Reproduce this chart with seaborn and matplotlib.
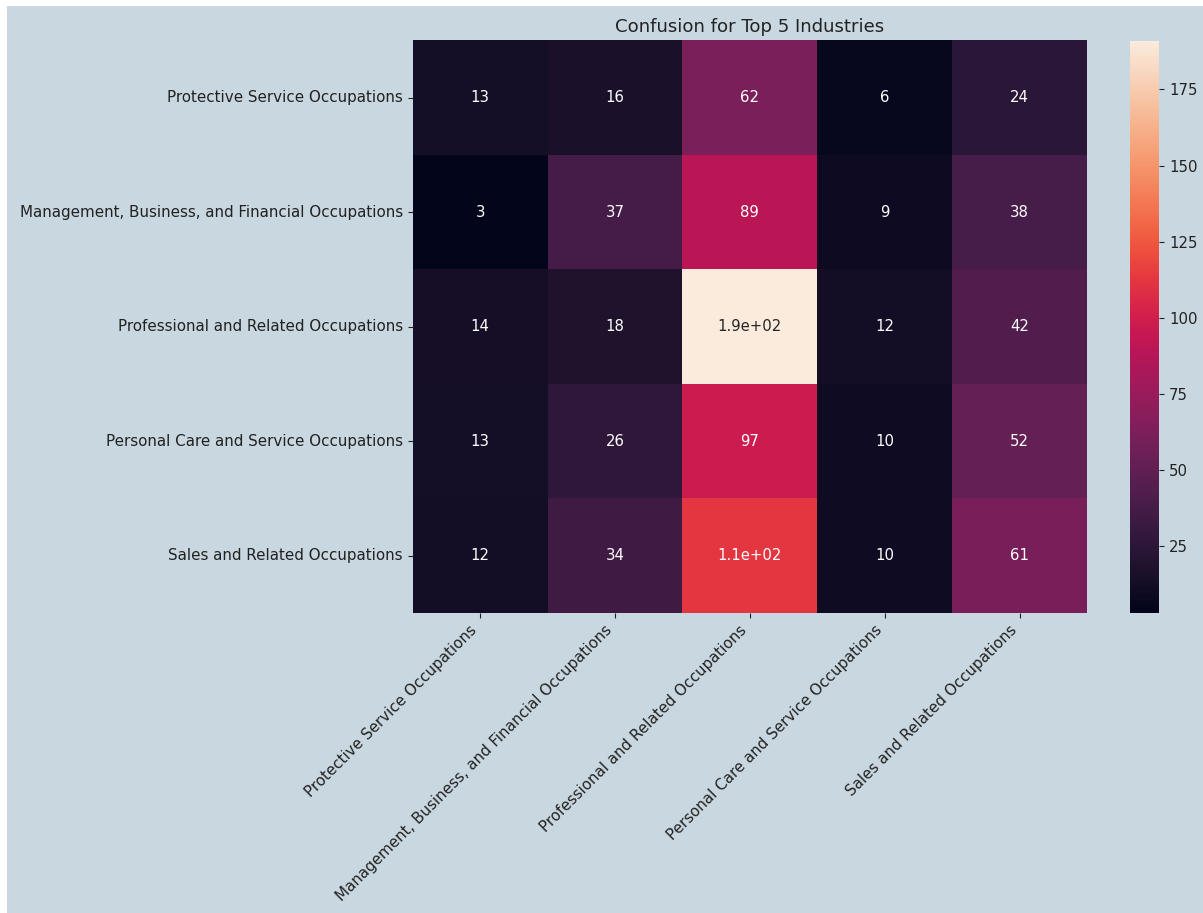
import matplotlib
matplotlib.use("Agg")
import matplotlib.pyplot as plt
from matplotlib.patches import Rectangle
import numpy as np
import pandas as pd
import seaborn as sns

occupations = [
    "Protective Service Occupations",
    "Management, Business, and Financial Occupations",
    "Professional and Related Occupations",
    "Personal Care and Service Occupations",
    "Sales and Related Occupations",
]

row_protective = [13, 16, 62, 6, 24]
row_management = [3, 37, 89, 9, 38]
row_professional = [14, 18, 191, 12, 42]
row_personal_care = [13, 26, 97, 10, 52]
row_sales = [12, 34, 112, 10, 61]

cm = pd.DataFrame(
    [row_protective, row_management, row_professional, row_personal_care, row_sales],
    index=occupations,
    columns=occupations,
)

BG = "#c9d8e0"
TEXT = "#222222"
W, H = 1203, 913
fig = plt.figure(figsize=(W / 100, H / 100), dpi=100, facecolor="white")
# page background panel, leaving a thin white margin at the top and left
fig.patches.append(Rectangle((7 / W, 0), 1 - 7 / W, 1 - 6 / H,
                             transform=fig.transFigure, facecolor=BG,
                             edgecolor="none", zorder=-10))

ax = fig.add_axes([412.7 / W, 1 - 613 / H, (1087 - 412.7) / W, (613 - 40.3) / H])
cax = fig.add_axes([1130 / W, 1 - 613 / H, (1159.3 - 1130) / W, (613 - 40.7) / H])

sns.heatmap(cm, annot=True, ax=ax, cbar_ax=cax, annot_kws={"fontsize": 10.7})

ax.set_title("Confusion for Top 5 Industries", fontsize=13.1, color=TEXT)
ax.set_xticklabels(ax.get_xticklabels(), rotation=45, ha="right",
                   fontsize=10.9, color=TEXT)
ax.set_yticklabels(ax.get_yticklabels(), rotation=0, fontsize=10.9, color=TEXT)
ax.tick_params(colors=TEXT)
cax.set_yticks([25, 50, 75, 100, 125, 150, 175])
cax.tick_params(labelsize=10.7, colors=TEXT)

fig.savefig("out.png", dpi=100, facecolor=fig.get_facecolor())
